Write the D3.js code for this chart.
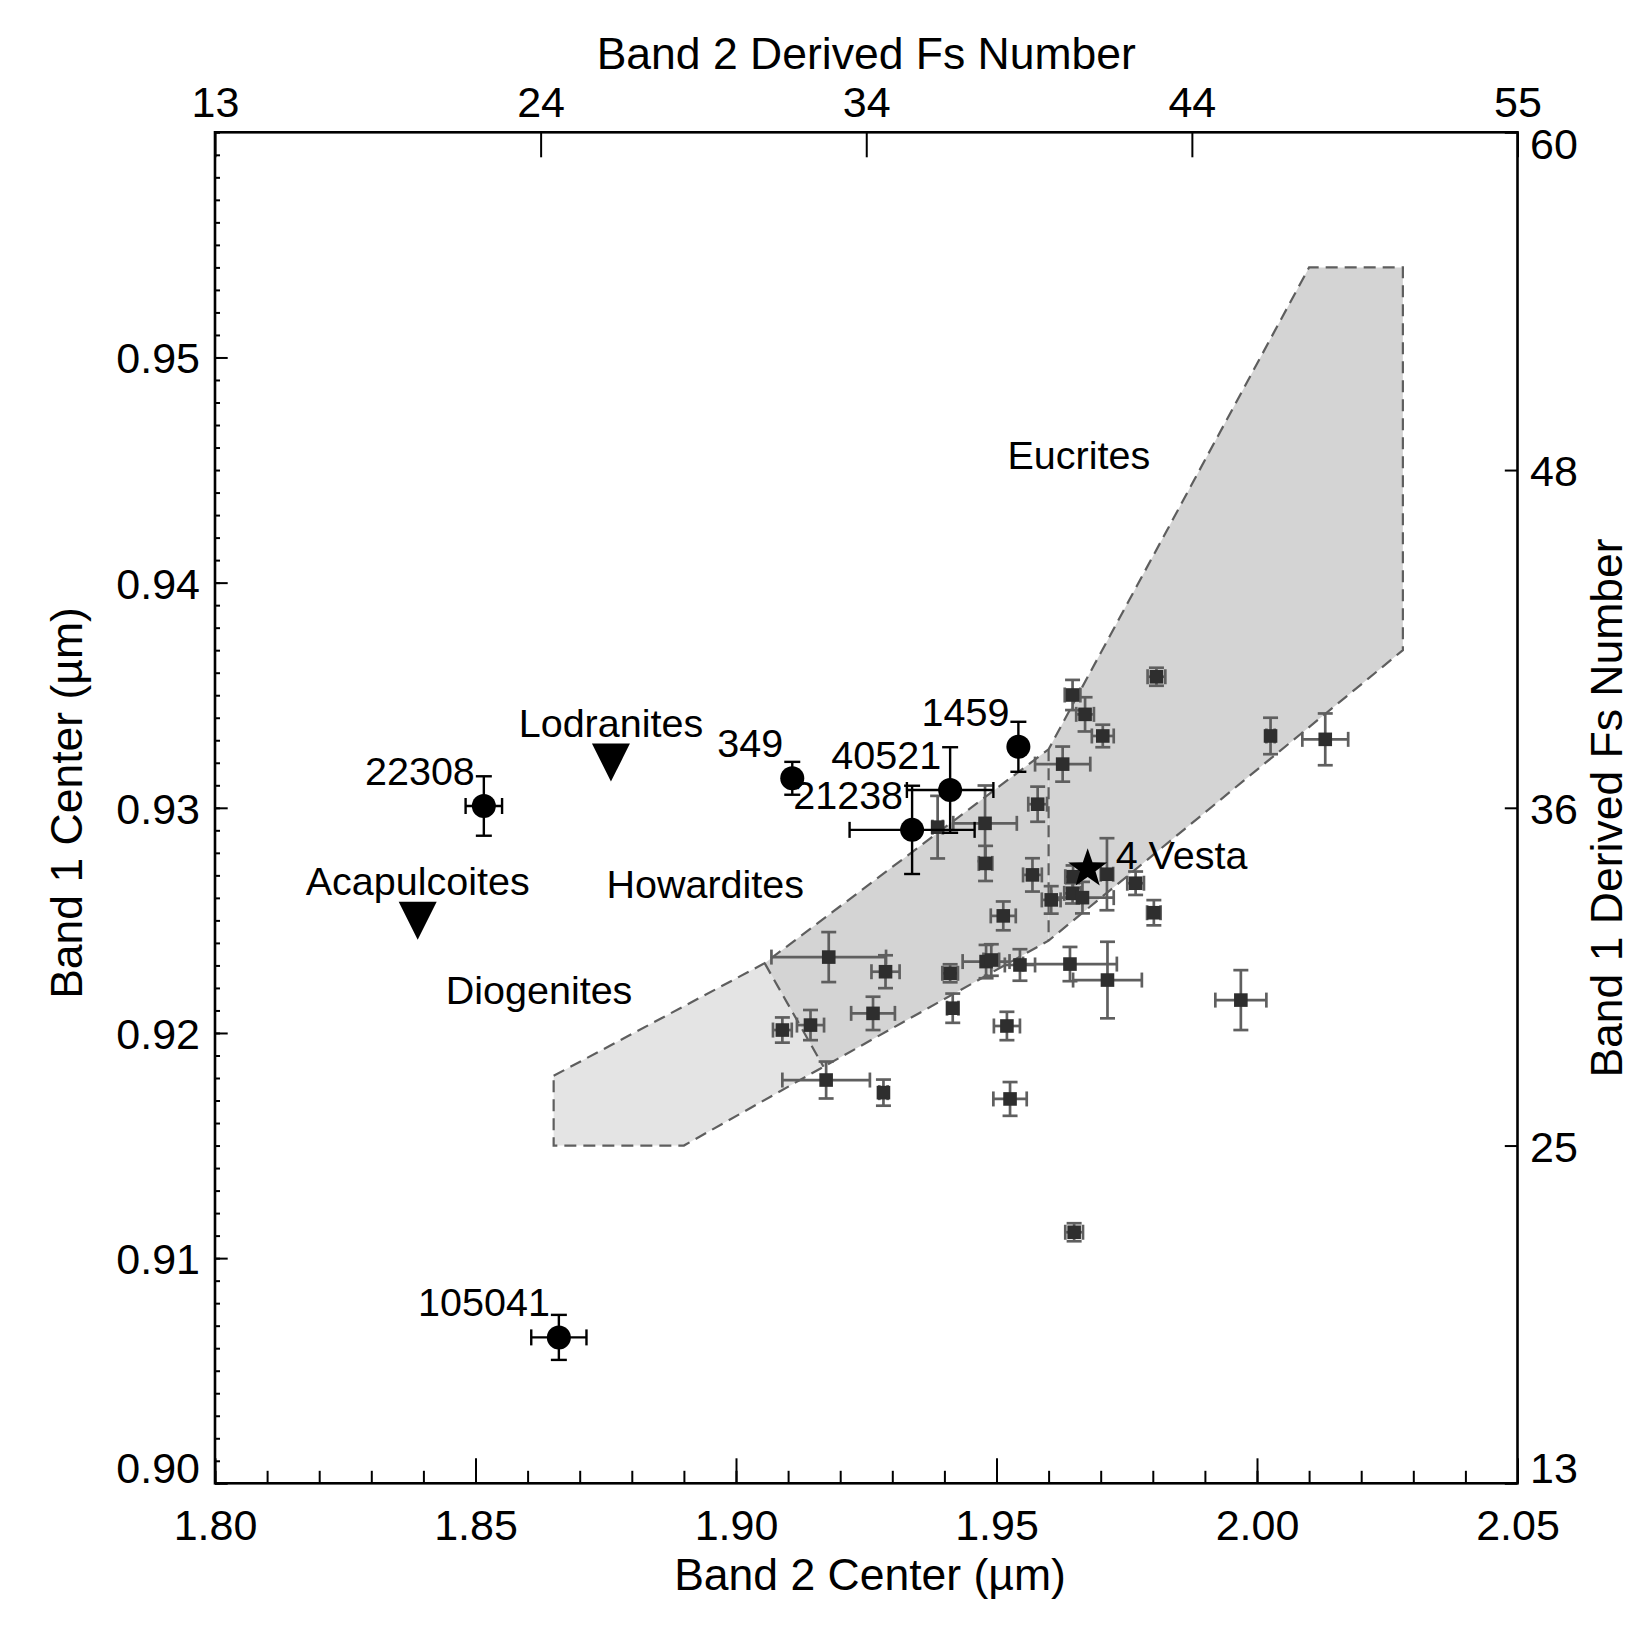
<!DOCTYPE html>
<html>
<head>
<meta charset="utf-8">
<script src="https://cdn.jsdelivr.net/npm/d3@7"></script>
<style>
  body { margin: 0; background: #fff; }
  text { font-family: "Liberation Sans", Arial, Helvetica, sans-serif; fill: #000; }
</style>
</head>
<body>
<svg id="chart" width="1650" height="1650"></svg>
<script>
// ---------------- DATA ----------------
// HED meteorite spectra (small squares): Band II center, Band I center, errors
const hedBand2    = [1.9807,1.9646,1.9670,1.9704,1.9627,2.0026,2.0131,1.9579,1.9387,1.9478,1.9479,1.9569,1.9513,1.9605,1.9647,1.9646,1.9665,1.9712,1.9767,1.9802,1.9178,1.9287,1.9411,1.9480,1.9490,1.9545,1.9641,1.9713,1.9089,1.9143,1.9263,1.9416,1.9520,1.9173,1.9283,1.9526,1.9649,1.9969];
const hedBand1    = [0.93582,0.93501,0.93415,0.93319,0.93194,0.93319,0.93304,0.93016,0.92914,0.92931,0.92753,0.92702,0.92520,0.92591,0.92694,0.92620,0.92601,0.92705,0.92665,0.92534,0.92337,0.92272,0.92265,0.92317,0.92324,0.92302,0.92306,0.92235,0.92013,0.92035,0.92087,0.92110,0.92031,0.91791,0.91735,0.91707,0.91115,0.92146];
const hedBand2Err = [0.0017,0.0015,0.0017,0.0021,0.0053,0.0008,0.0044,0.0018,0.0010,0.0061,0.0013,0.0018,0.0024,0.0018,0.0015,0.0016,0.0060,0.0012,0.0016,0.0013,0.0110,0.0027,0.0015,0.0045,0.0015,0.0029,0.0090,0.0066,0.0018,0.0026,0.0042,0.0011,0.0025,0.0084,0.0008,0.0032,0.0017,0.0049];
const hedBand1Err = [0.00040,0.00067,0.00076,0.00050,0.00078,0.00081,0.00115,0.00078,0.00139,0.00168,0.00078,0.00074,0.00064,0.00061,0.00050,0.00045,0.00070,0.00160,0.00052,0.00056,0.00111,0.00073,0.00040,0.00074,0.00070,0.00070,0.00076,0.00170,0.00056,0.00067,0.00074,0.00065,0.00063,0.00082,0.00058,0.00075,0.00040,0.00133];

// Asteroids (filled circles)
const astNames    = ["22308","105041","349","21238","40521","1459"];
const astBand2    = [1.8516,1.8660,1.9108,1.9338,1.9411,1.9542];
const astBand1    = [0.93008,0.90648,0.93131,0.92902,0.93079,0.93271];
const astBand2Err = [0.0035,0.0053,0.0000,0.0120,0.0083,0.0000];
const astBand1Err = [0.00132,0.00100,0.00073,0.00196,0.00190,0.00111];

// Meteorite group averages (down triangles)
const groupNames = ["Lodranites","Acapulcoites"];
const groupBand2 = [1.8760,1.8389];
const groupBand1 = [0.93201,0.92498];

// 4 Vesta (star)
const vestaName  = ["4 Vesta"];
const vestaBand2 = [1.9675];
const vestaBand1 = [0.92729];

// Region labels
const regionNames = ["Eucrites","Howardites","Diogenites"];
const regionBand2 = [1.9658,1.8941,1.8622];
const regionBand1 = [0.94503,0.92599,0.92127];

// Region polygons (Band II, Band I)
const diogeniteRegion = [[1.865,0.9181],[1.9055,0.9231],[1.9168,0.9185],[1.890,0.9150],[1.865,0.9150]];
const howarditeRegion = [[1.9055,0.9231],[1.960,0.9326],[1.960,0.9241],[1.9168,0.9185]];
const eucriteRegion   = [[1.960,0.9326],[2.010,0.9540],[2.028,0.9540],[2.028,0.9370],[1.960,0.9241]];
const outerBoundary   = [[1.865,0.9181],[1.9055,0.9231],[1.960,0.9326],[2.010,0.9540],[2.028,0.9540],[2.028,0.9370],[1.960,0.9241],[1.9168,0.9185],[1.890,0.9150],[1.865,0.9150]];
const dividers        = [[[1.9055,0.9231],[1.9168,0.9185]], [[1.960,0.9326],[1.960,0.9241]]];

// Axis ticks
const xTicks = [1.80,1.85,1.90,1.95,2.00,2.05];
const yTicks = [0.90,0.91,0.92,0.93,0.94,0.95];
const topTickLabels   = ["13","24","34","44","55"];
const rightTickLabels = ["13","25","36","48","60"];

// ---------------- DRAW ----------------
const svg = d3.select("#chart");
svg.append("rect").attr("width",1650).attr("height",1650).attr("fill","#fff");

const L = 215, R = 1517.5, T = 132.3, B = 1483.3;
const x = d3.scaleLinear().domain([1.80,2.05]).range([L,R]);
const y = d3.scaleLinear().domain([0.90,0.96]).range([B,T]);
const xTop = d3.scaleLinear().domain([0,4]).range([L,R]);
const yRight = d3.scaleLinear().domain([0,4]).range([B,T]);

const line = d3.line().x(d=>x(d[0])).y(d=>y(d[1]));
const poly = pts => line(pts) + "Z";

// Region fills
svg.append("path").attr("d", poly(diogeniteRegion)).attr("fill","#e4e4e4");
svg.append("path").attr("d", poly(howarditeRegion)).attr("fill","#d4d4d4");
svg.append("path").attr("d", poly(eucriteRegion)).attr("fill","#d4d4d4");
// Dashed outlines
const dashStyle = s => s.attr("fill","none").attr("stroke","#5e5e5e").attr("stroke-width",2.2).attr("stroke-dasharray","12,7");
dashStyle(svg.append("path").attr("d", poly(outerBoundary)));
dividers.forEach(dv => dashStyle(svg.append("path").attr("d", line(dv))));

// Error bar helper
function errorBars(g, bx, by, ex, ey, color, capHalf, width) {
  const px = x(bx), py = y(by);
  if (ex > 0) {
    const x0 = x(bx - ex), x1 = x(bx + ex);
    g.append("line").attr("x1",x0).attr("x2",x1).attr("y1",py).attr("y2",py);
    g.append("line").attr("x1",x0).attr("x2",x0).attr("y1",py-capHalf).attr("y2",py+capHalf);
    g.append("line").attr("x1",x1).attr("x2",x1).attr("y1",py-capHalf).attr("y2",py+capHalf);
  }
  if (ey > 0) {
    const y0 = y(by - ey), y1 = y(by + ey);
    g.append("line").attr("x1",px).attr("x2",px).attr("y1",y0).attr("y2",y1);
    g.append("line").attr("x1",px-capHalf).attr("x2",px+capHalf).attr("y1",y0).attr("y2",y0);
    g.append("line").attr("x1",px-capHalf).attr("x2",px+capHalf).attr("y1",y1).attr("y2",y1);
  }
  g.attr("stroke",color).attr("stroke-width",width);
}

// HED squares
const hedG = svg.append("g");
hedBand2.forEach((b2,i) => {
  errorBars(hedG.append("g"), b2, hedBand1[i], hedBand2Err[i], hedBand1Err[i], "#5f5f5f", 7.5, 2.7);
});
hedBand2.forEach((b2,i) => {
  hedG.append("rect").attr("x", x(b2)-6.8).attr("y", y(hedBand1[i])-6.8)
    .attr("width",13.6).attr("height",13.6).attr("fill","#2e2e2e");
});

// Asteroids
const astG = svg.append("g");
astBand2.forEach((b2,i) => {
  errorBars(astG.append("g"), b2, astBand1[i], astBand2Err[i], astBand1Err[i], "#000", 8, 2.4);
  astG.append("circle").attr("cx", x(b2)).attr("cy", y(astBand1[i])).attr("r", 12).attr("fill","#000");
  astG.append("text").attr("x", x(b2)-9).attr("y", y(astBand1[i])-21)
    .attr("text-anchor","end").attr("font-size",39.5).text(astNames[i]);
});

// Group triangles
groupBand2.forEach((b2,i) => {
  const cx = x(b2), cy = y(groupBand1[i]);
  svg.append("path").attr("d", `M${cx-19},${cy-19}L${cx+19},${cy-19}L${cx},${cy+19}Z`).attr("fill","#000");
  svg.append("text").attr("x", cx).attr("y", cy-26).attr("text-anchor","middle")
    .attr("font-size",39.5).text(groupNames[i]);
});

// Vesta star
vestaBand2.forEach((b2,i) => {
  const cx = x(b2), cy = y(vestaBand1[i]);
  const Ro = 20.5, Ri = 8.2;
  const pts = d3.range(10).map(k => {
    const a = -Math.PI/2 + k*Math.PI/5;
    const r = k % 2 === 0 ? Ro : Ri;
    return [cx + r*Math.cos(a), cy + r*Math.sin(a)];
  });
  svg.append("path").attr("d", d3.line()(pts) + "Z").attr("fill","#000");
  svg.append("text").attr("x", cx+28).attr("y", cy).attr("font-size",39.5).text(vestaName[i]);
});

// Region labels
regionNames.forEach((n,i) => {
  svg.append("text").attr("x", x(regionBand2[i])).attr("y", y(regionBand1[i]))
    .attr("text-anchor","middle").attr("font-size",39.5).text(n);
});

// ---------------- AXES ----------------
const tickFont = 43;
function styleAxis(g) {
  g.select(".domain").remove();
  g.selectAll(".tick line").attr("stroke","#000").attr("stroke-width",2);
  g.selectAll("text").attr("font-size",tickFont).attr("font-family","Liberation Sans, Arial, sans-serif").attr("fill","#000");
}

// Bottom
const bMinor = svg.append("g").attr("transform",`translate(0,${B})`)
  .call(d3.axisBottom(x).tickValues(d3.range(26).map(i=>1.80+i*0.01)).tickSize(-12.5).tickSizeOuter(0).tickFormat(""));
styleAxis(bMinor);
const bMajor = svg.append("g").attr("transform",`translate(0,${B})`)
  .call(d3.axisBottom(x).tickValues(xTicks).tickSize(-25).tickSizeOuter(0).tickFormat(d3.format(".2f")));
styleAxis(bMajor);
bMajor.selectAll("text").attr("y",57).attr("dy",null);

// Left
const lMinor = svg.append("g").attr("transform",`translate(${L},0)`)
  .call(d3.axisLeft(y).tickValues(d3.range(61).map(i=>0.90+i*0.001)).tickSize(-5).tickSizeOuter(0).tickFormat(""));
styleAxis(lMinor);
const lMajor = svg.append("g").attr("transform",`translate(${L},0)`)
  .call(d3.axisLeft(y).tickValues(yTicks).tickSize(-12.7).tickSizeOuter(0).tickFormat(d3.format(".2f")));
styleAxis(lMajor);
lMajor.selectAll("text").attr("x",-15).attr("dy",d => d === 0.90 ? "-0.02em" : "0.36em");

// Top
const tAx = svg.append("g").attr("transform",`translate(0,${T})`)
  .call(d3.axisTop(xTop).tickValues([0,1,2,3,4]).tickSize(-25).tickSizeOuter(0).tickFormat(i=>topTickLabels[i]));
styleAxis(tAx);
tAx.selectAll("text").attr("y",-15).attr("dy",null);

// Right
const rAx = svg.append("g").attr("transform",`translate(${R},0)`)
  .call(d3.axisRight(yRight).tickValues([0,1,2,3,4]).tickSize(-12.7).tickSizeOuter(0).tickFormat(i=>rightTickLabels[i]));
styleAxis(rAx);
rAx.selectAll("text").attr("x",12.5).attr("dy", i => i === 0 ? "-0.02em" : (i === 4 ? "0.6em" : "0.36em"));

// Frame
svg.append("rect").attr("x",L).attr("y",T).attr("width",R-L).attr("height",B-T)
  .attr("fill","none").attr("stroke","#000").attr("stroke-width",2.6);

// Axis titles
const titleFont = 44.5;
svg.append("text").attr("x",(L+R)/2).attr("y",69).attr("text-anchor","middle").attr("font-size",titleFont).text("Band 2 Derived Fs Number");
svg.append("text").attr("x",870).attr("y",1590).attr("text-anchor","middle").attr("font-size",titleFont).text("Band 2 Center (µm)");
svg.append("text").attr("transform","translate(82,803) rotate(-90)").attr("text-anchor","middle").attr("font-size",titleFont).text("Band 1 Center (µm)");
svg.append("text").attr("transform","translate(1622,808) rotate(-90)").attr("text-anchor","middle").attr("font-size",titleFont).text("Band 1 Derived Fs Number");
</script>
</body>
</html>
